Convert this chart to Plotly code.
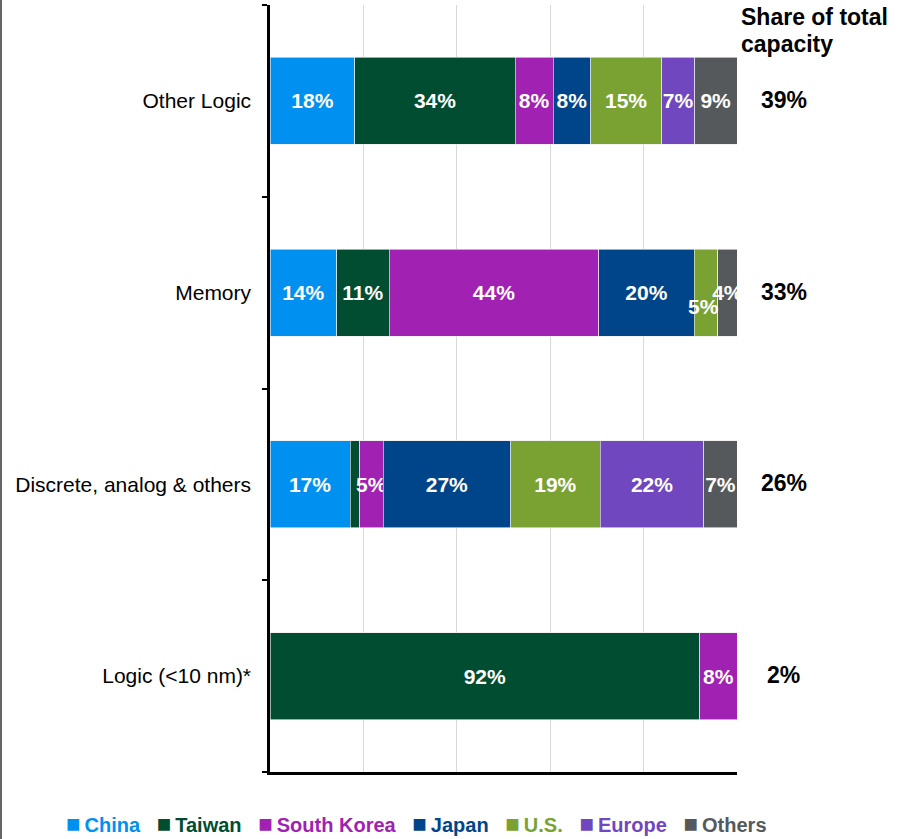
import plotly.graph_objects as go

# Capacity segments, listed top to bottom as displayed
segments = ["Other Logic", "Memory", "Discrete, analog & others", "Logic (<10 nm)*"]

# Regional share of each segment's capacity (%)
china = [18, 14, 17, 0]
taiwan = [34, 11, 2, 92]
south_korea = [8, 44, 5, 8]
japan = [8, 20, 27, 0]
us = [15, 5, 19, 0]
europe = [7, 0, 22, 0]
others = [9, 4, 7, 0]

# Share of total capacity per segment (%)
total_share = [39, 33, 26, 2]

regions = ["China", "Taiwan", "South Korea", "Japan", "U.S.", "Europe", "Others"]
values = [china, taiwan, south_korea, japan, us, europe, others]
colors = ["#0091F0", "#004D31", "#A021B2", "#00458A", "#7AA232", "#7047BE", "#55595C"]

FONT = "Liberation Sans, Arial, sans-serif"

# labels that are hidden inside the bar (too small) or placed separately
hidden = {("Taiwan", "Discrete, analog & others"), ("U.S.", "Memory")}

fig = go.Figure()
for name, vals, col in zip(regions, values, colors):
    texts = []
    for seg, v in zip(segments, vals):
        if v == 0 or (name, seg) in hidden:
            texts.append("")
        else:
            texts.append(f"{v}%")
    fig.add_trace(go.Bar(
        y=segments, x=vals, name=name, orientation="h",
        marker=dict(color=col, line=dict(color="rgba(235,235,235,0.8)", width=0.8)),
        text=texts, textposition="inside", insidetextanchor="middle", textangle=0,
        textfont=dict(family=FONT, size=21, color="white", weight="bold"),
        showlegend=False, hoverinfo="skip",
    ))

annotations = []

# U.S. label in the Memory bar sits just below the bar centre
mi = segments.index("Memory")
row_total = sum(v[mi] for v in values)
before = sum(v[mi] for v in values[:regions.index("U.S.")])
us_centre = (before + us[mi] / 2) / row_total * 100
annotations.append(dict(
    x=us_centre, y="Memory", xref="x", yref="y", text=f"<b>{us[mi]}%</b>",
    showarrow=False, yshift=-14, xshift=-3,
    font=dict(family=FONT, size=21, color="white"),
))

# share-of-total column header
for line, ypos in (("Share of total", 0.9844), ("capacity", 0.9492)):
    annotations.append(dict(
        x=1.004, y=ypos, xref="paper", yref="paper", xanchor="left", yanchor="middle",
        text=f"<b>{line}</b>", align="left", showarrow=False,
        font=dict(family=FONT, size=23, color="black"),
    ))
for seg, s in zip(segments, total_share):
    annotations.append(dict(
        x=1.1, y=seg, xref="paper", yref="y", text=f"<b>{s}%</b>",
        showarrow=False, xanchor="center", yshift=1,
        font=dict(family=FONT, size=23, color="black"),
    ))

# legend row
items = []
for name, col in zip(regions, colors):
    items.append(
        f"<span style='color:{col};font-size:24px'>■</span>"
        f"<span style='color:{col}'>\u2009<b>{name}</b></span>"
    )
annotations.append(dict(
    x=0.313, y=-0.0874, xref="paper", yref="paper", xanchor="center", yanchor="bottom",
    text="   ".join(items), showarrow=False,
    font=dict(family=FONT, size=20),
))

fig.update_layout(
    width=898, height=839,
    margin=dict(l=270, r=161, t=5, b=67),
    paper_bgcolor="white", plot_bgcolor="white",
    barmode="stack", barnorm="percent", bargap=0.546,
    uniformtext=dict(minsize=21, mode="show"),
    font=dict(family=FONT, size=21, color="black"),
    xaxis=dict(
        range=[0, 100], dtick=20, showticklabels=False, ticks="",
        showgrid=True, gridcolor="#D9D9D9", gridwidth=1,
        showline=True, linecolor="black", linewidth=2.5, zeroline=False,
    ),
    yaxis=dict(
        type="category", categoryorder="array", categoryarray=segments[::-1],
        range=[-0.5, 3.5], tickson="boundaries", ticks="outside", ticklen=5,
        tickwidth=2, tickcolor="black", showline=True, linecolor="black",
        linewidth=2.5, showgrid=False, ticklabelstandoff=12,
        tickfont=dict(family=FONT, size=21, color="black"),
    ),
    annotations=annotations,
    shapes=[dict(
        type="line", xref="paper", yref="paper",
        x0=-0.576, x1=-0.576, y0=-0.09, y1=1.01,
        line=dict(color="#333333", width=1.5),
    )],
)

fig.write_html("out.html")
